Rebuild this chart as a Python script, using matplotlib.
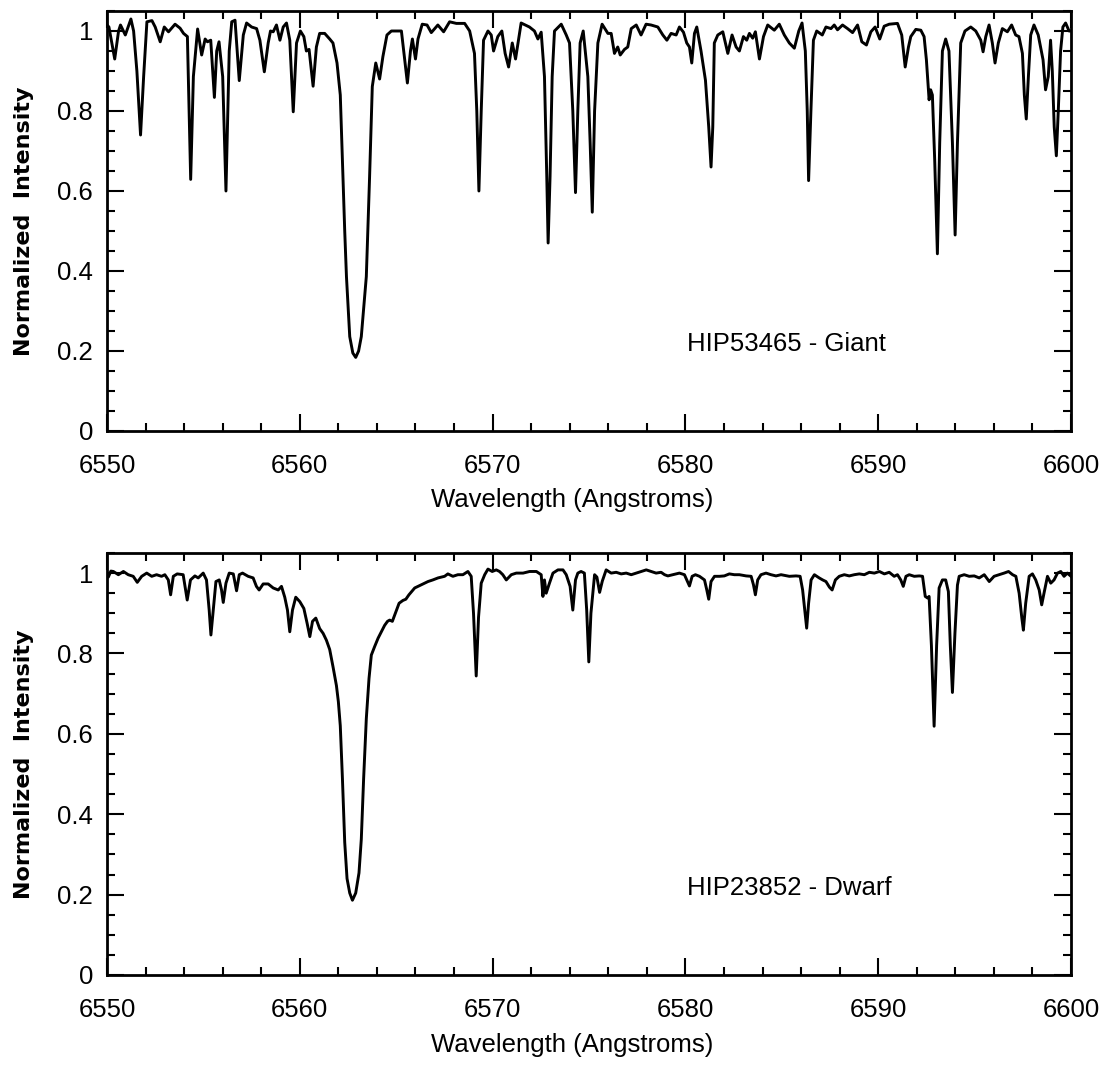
import matplotlib
matplotlib.use("Agg")
import matplotlib.pyplot as plt
from matplotlib.ticker import MultipleLocator, FuncFormatter

# ---------------- data ----------------
giant_wave = [
    6550.00, 6550.10, 6550.40, 6550.60, 6550.70, 6550.95, 6551.24, 6551.38, 6551.55, 6551.74,
    6551.90, 6552.07, 6552.33, 6552.50, 6552.76, 6552.97, 6553.19, 6553.53, 6553.79, 6553.97,
    6554.17, 6554.34, 6554.48, 6554.70, 6554.91, 6555.09, 6555.21, 6555.38, 6555.57, 6555.69,
    6555.81, 6556.00, 6556.17, 6556.34, 6556.47, 6556.64, 6556.86, 6557.07, 6557.24, 6557.50,
    6557.76, 6557.93, 6558.16, 6558.36, 6558.48, 6558.62, 6558.79, 6558.97, 6559.14, 6559.31,
    6559.48, 6559.66, 6559.83, 6560.03, 6560.21, 6560.34, 6560.48, 6560.69, 6560.86, 6561.03,
    6561.29, 6561.55, 6561.72, 6561.93, 6562.10, 6562.24, 6562.33, 6562.42, 6562.59, 6562.75,
    6562.90, 6563.05, 6563.19, 6563.45, 6563.62, 6563.76, 6563.94, 6564.14, 6564.31, 6564.52,
    6564.75, 6565.27, 6565.44, 6565.58, 6565.74, 6565.84, 6566.00, 6566.13, 6566.35, 6566.60,
    6566.82, 6567.16, 6567.46, 6567.77, 6568.12, 6568.55, 6568.81, 6569.06, 6569.18, 6569.29,
    6569.41, 6569.53, 6569.76, 6569.93, 6570.05, 6570.27, 6570.48, 6570.65, 6570.83, 6571.02,
    6571.19, 6571.48, 6571.91, 6572.17, 6572.35, 6572.52, 6572.69, 6572.81, 6572.88, 6572.98,
    6573.09, 6573.21, 6573.56, 6573.82, 6573.99, 6574.16, 6574.30, 6574.42, 6574.54, 6574.70,
    6574.94, 6575.06, 6575.17, 6575.29, 6575.46, 6575.68, 6575.98, 6576.15, 6576.32, 6576.49,
    6576.62, 6576.84, 6577.01, 6577.19, 6577.45, 6577.70, 6577.96, 6578.22, 6578.57, 6578.83,
    6579.04, 6579.26, 6579.52, 6579.69, 6579.90, 6580.07, 6580.21, 6580.33, 6580.47, 6580.59,
    6580.81, 6581.04, 6581.21, 6581.33, 6581.42, 6581.50, 6581.68, 6581.94, 6582.20, 6582.42,
    6582.63, 6582.80, 6583.01, 6583.18, 6583.32, 6583.49, 6583.63, 6583.84, 6584.05, 6584.27,
    6584.61, 6584.87, 6585.13, 6585.39, 6585.65, 6585.88, 6586.05, 6586.22, 6586.32, 6586.39,
    6586.51, 6586.64, 6586.81, 6587.10, 6587.29, 6587.55, 6587.72, 6587.89, 6588.15, 6588.41,
    6588.67, 6588.93, 6589.15, 6589.39, 6589.62, 6589.84, 6590.08, 6590.31, 6590.57, 6591.00,
    6591.22, 6591.40, 6591.57, 6591.69, 6591.95, 6592.21, 6592.38, 6592.50, 6592.64, 6592.72,
    6592.81, 6592.93, 6593.07, 6593.19, 6593.33, 6593.50, 6593.67, 6593.85, 6593.99, 6594.11,
    6594.28, 6594.50, 6594.80, 6595.06, 6595.32, 6595.44, 6595.58, 6595.75, 6595.92, 6596.06,
    6596.23, 6596.44, 6596.70, 6596.92, 6597.13, 6597.30, 6597.48, 6597.58, 6597.68, 6597.79,
    6597.91, 6598.08, 6598.30, 6598.55, 6598.68, 6598.82, 6598.94, 6599.03, 6599.13, 6599.24,
    6599.34, 6599.46, 6599.58, 6599.72, 6599.90, 6600.00,
]
giant_flux = [
    1.015, 1.010, 0.930, 1.000, 1.015, 0.990, 1.030, 1.000, 0.900, 0.740,
    0.886, 1.023, 1.026, 1.010, 0.973, 1.010, 0.998, 1.017, 1.007, 0.994,
    0.986, 0.629, 0.886, 1.005, 0.940, 0.980, 0.973, 0.977, 0.834, 0.950,
    0.973, 0.886, 0.600, 0.950, 1.023, 1.027, 0.876, 0.990, 1.020, 1.010,
    1.006, 0.977, 0.898, 0.970, 1.000, 0.998, 1.015, 0.977, 1.010, 1.020,
    0.977, 0.798, 0.970, 1.000, 0.986, 0.950, 0.954, 0.862, 0.960, 0.994,
    0.994, 0.980, 0.970, 0.920, 0.840, 0.636, 0.500, 0.386, 0.236, 0.195,
    0.184, 0.200, 0.236, 0.386, 0.636, 0.861, 0.920, 0.880, 0.936, 0.990,
    1.000, 1.000, 0.930, 0.870, 0.950, 0.980, 0.930, 0.980, 1.017, 1.015,
    0.996, 1.015, 0.998, 1.023, 1.019, 1.019, 1.000, 0.944, 0.800, 0.600,
    0.800, 0.977, 1.000, 0.990, 0.950, 0.986, 1.000, 0.944, 0.910, 0.970,
    0.930, 1.020, 1.010, 1.000, 0.980, 0.997, 0.886, 0.636, 0.470, 0.636,
    0.886, 1.000, 1.017, 0.990, 0.970, 0.800, 0.596, 0.800, 0.970, 1.000,
    0.886, 0.720, 0.547, 0.800, 0.970, 1.017, 0.994, 0.994, 0.944, 0.960,
    0.940, 0.954, 0.960, 1.006, 1.015, 0.990, 1.017, 1.015, 1.010, 0.990,
    0.977, 0.994, 0.990, 1.010, 0.997, 0.970, 0.960, 0.920, 0.994, 1.010,
    0.950, 0.877, 0.760, 0.660, 0.760, 0.970, 0.990, 0.998, 0.944, 0.990,
    0.960, 0.950, 0.986, 0.977, 0.994, 0.982, 0.998, 0.930, 0.986, 1.015,
    1.002, 1.017, 0.990, 0.970, 0.957, 1.000, 1.020, 0.950, 0.800, 0.626,
    0.800, 0.977, 1.000, 0.990, 1.010, 1.006, 1.015, 1.003, 1.015, 1.006,
    0.996, 1.015, 0.973, 0.965, 0.998, 1.010, 0.980, 1.012, 1.017, 1.019,
    0.990, 0.910, 0.960, 0.986, 1.004, 1.002, 0.986, 0.928, 0.828, 0.853,
    0.840, 0.678, 0.443, 0.720, 0.950, 0.980, 0.950, 0.720, 0.490, 0.720,
    0.970, 1.000, 1.010, 1.000, 0.977, 0.948, 0.986, 1.015, 0.970, 0.920,
    0.970, 1.006, 0.998, 1.015, 0.990, 0.986, 0.944, 0.840, 0.780, 0.886,
    0.990, 1.015, 0.990, 0.928, 0.853, 0.886, 0.977, 0.900, 0.760, 0.688,
    0.800, 0.950, 1.010, 1.020, 1.000, 1.000,
]

dwarf_wave = [
    6550.00, 6550.07, 6550.20, 6550.33, 6550.59, 6550.85, 6551.10, 6551.36, 6551.57, 6551.80,
    6552.06, 6552.32, 6552.57, 6552.83, 6553.00, 6553.18, 6553.30, 6553.44, 6553.64, 6553.95,
    6554.16, 6554.33, 6554.56, 6554.73, 6554.99, 6555.16, 6555.30, 6555.39, 6555.51, 6555.65,
    6555.82, 6555.94, 6556.03, 6556.17, 6556.34, 6556.55, 6556.72, 6556.86, 6557.03, 6557.32,
    6557.58, 6557.75, 6557.89, 6558.10, 6558.36, 6558.62, 6558.88, 6559.05, 6559.22, 6559.36,
    6559.48, 6559.62, 6559.79, 6560.00, 6560.21, 6560.38, 6560.52, 6560.66, 6560.83, 6561.03,
    6561.21, 6561.38, 6561.55, 6561.73, 6561.90, 6562.00, 6562.10, 6562.21, 6562.33, 6562.45,
    6562.59, 6562.73, 6562.90, 6563.07, 6563.19, 6563.31, 6563.45, 6563.59, 6563.71, 6563.88,
    6564.06, 6564.23, 6564.40, 6564.55, 6564.66, 6564.80, 6564.97, 6565.15, 6565.35, 6565.50,
    6565.66, 6565.96, 6566.30, 6566.65, 6566.90, 6567.17, 6567.51, 6567.68, 6567.94, 6568.20,
    6568.46, 6568.72, 6568.89, 6569.01, 6569.15, 6569.27, 6569.41, 6569.59, 6569.76, 6569.98,
    6570.19, 6570.36, 6570.53, 6570.71, 6570.97, 6571.23, 6571.58, 6571.92, 6572.27, 6572.52,
    6572.61, 6572.69, 6572.78, 6572.95, 6573.13, 6573.39, 6573.65, 6573.82, 6574.02, 6574.16,
    6574.30, 6574.42, 6574.59, 6574.76, 6574.88, 6574.99, 6575.10, 6575.29, 6575.41, 6575.55,
    6575.69, 6575.89, 6576.15, 6576.41, 6576.67, 6576.93, 6577.19, 6577.45, 6577.71, 6577.97,
    6578.23, 6578.48, 6578.74, 6578.92, 6579.09, 6579.35, 6579.69, 6579.95, 6580.07, 6580.21,
    6580.35, 6580.52, 6580.73, 6580.99, 6581.11, 6581.21, 6581.33, 6581.51, 6581.77, 6582.02,
    6582.28, 6582.54, 6582.80, 6583.15, 6583.41, 6583.53, 6583.63, 6583.75, 6583.92, 6584.18,
    6584.44, 6584.70, 6584.96, 6585.39, 6585.74, 6585.95, 6586.08, 6586.19, 6586.29, 6586.39,
    6586.52, 6586.69, 6586.94, 6587.12, 6587.29, 6587.47, 6587.61, 6587.78, 6587.98, 6588.24,
    6588.50, 6588.76, 6589.02, 6589.28, 6589.54, 6589.80, 6590.06, 6590.32, 6590.57, 6590.83,
    6591.00, 6591.17, 6591.30, 6591.44, 6591.61, 6591.87, 6592.13, 6592.30, 6592.44, 6592.56,
    6592.64, 6592.76, 6592.90, 6593.03, 6593.16, 6593.33, 6593.50, 6593.64, 6593.74, 6593.85,
    6593.98, 6594.11, 6594.20, 6594.46, 6594.72, 6594.98, 6595.24, 6595.50, 6595.76, 6596.01,
    6596.27, 6596.53, 6596.76, 6596.97, 6597.14, 6597.31, 6597.45, 6597.53, 6597.65, 6597.83,
    6598.00, 6598.17, 6598.35, 6598.48, 6598.60, 6598.78, 6598.95, 6599.12, 6599.30, 6599.47,
    6599.64, 6599.81, 6600.00,
]
dwarf_flux = [
    0.995, 0.990, 1.005, 1.004, 0.996, 1.004, 0.996, 0.992, 0.977, 0.992,
    1.000, 0.992, 0.996, 0.992, 0.996, 0.983, 0.946, 0.992, 0.998, 0.996,
    0.933, 0.983, 0.993, 0.988, 1.000, 0.983, 0.908, 0.846, 0.908, 0.979,
    0.983, 0.958, 0.927, 0.975, 1.000, 0.998, 0.956, 0.996, 1.000, 0.992,
    0.988, 0.967, 0.958, 0.973, 0.973, 0.963, 0.958, 0.967, 0.940, 0.908,
    0.854, 0.908, 0.940, 0.929, 0.912, 0.875, 0.842, 0.880, 0.888, 0.862,
    0.850, 0.833, 0.810, 0.765, 0.720, 0.680, 0.620, 0.490, 0.330, 0.240,
    0.204, 0.186, 0.204, 0.254, 0.338, 0.488, 0.638, 0.738, 0.796, 0.817,
    0.838, 0.854, 0.870, 0.880, 0.883, 0.880, 0.902, 0.925, 0.932, 0.935,
    0.946, 0.963, 0.971, 0.979, 0.983, 0.988, 0.992, 0.998, 0.992, 0.996,
    0.996, 1.004, 0.992, 0.900, 0.744, 0.890, 0.975, 0.996, 1.010, 1.004,
    1.008, 1.004, 0.996, 0.983, 0.996, 1.000, 1.000, 1.004, 1.004, 0.996,
    0.942, 0.983, 0.950, 0.975, 1.000, 1.008, 1.008, 0.996, 0.967, 0.908,
    0.983, 1.000, 1.004, 1.000, 0.908, 0.779, 0.900, 0.996, 0.990, 0.952,
    0.980, 1.008, 1.000, 1.002, 0.998, 1.000, 0.996, 1.000, 1.004, 1.008,
    1.004, 1.000, 1.002, 0.996, 0.993, 0.996, 1.000, 0.996, 0.983, 0.968,
    0.992, 0.996, 0.992, 0.983, 0.958, 0.935, 0.979, 0.992, 0.992, 0.993,
    0.998, 0.996, 0.996, 0.993, 0.992, 0.971, 0.946, 0.983, 0.996, 1.000,
    0.996, 0.993, 0.996, 0.992, 0.993, 0.992, 0.958, 0.908, 0.863, 0.925,
    0.983, 0.996, 0.988, 0.983, 0.979, 0.965, 0.958, 0.983, 0.992, 0.996,
    0.993, 0.996, 0.998, 0.996, 1.002, 1.000, 1.004, 0.998, 1.002, 0.992,
    0.996, 0.983, 0.967, 0.992, 0.996, 0.992, 0.993, 0.992, 0.942, 0.938,
    0.942, 0.820, 0.619, 0.820, 0.963, 0.983, 0.983, 0.954, 0.820, 0.703,
    0.850, 0.970, 0.992, 0.996, 0.992, 0.993, 0.988, 0.996, 0.979, 0.992,
    0.996, 1.000, 1.004, 0.996, 0.992, 0.950, 0.888, 0.858, 0.925, 0.992,
    0.998, 0.983, 0.958, 0.921, 0.950, 0.992, 0.975, 0.983, 1.000, 1.004,
    0.992, 1.000, 0.992,
]

panels = [
    (giant_wave, giant_flux, "HIP53465 - Giant"),
    (dwarf_wave, dwarf_flux, "HIP23852 - Dwarf"),
]
x_range = (6550, 6600)
y_range = (0, 1.05)

# ---------------- figure ----------------
W, H = 1110, 1066
fig = plt.figure(figsize=(W / 100, H / 100), dpi=100)
fig.patch.set_facecolor("white")

# (top, bottom) pixel rows of each frame, and x-label rows
frames = [(11, 431), (553, 975)]
xlabel_rows = [500, 1045]
left_px, right_px = 107, 1071

tick_font = "Liberation Sans"
fsize = 18.5

for (wave, flux, label), (top_px, bot_px), xl_row in zip(panels, frames, xlabel_rows):
    ax = fig.add_axes([left_px / W, 1 - bot_px / H,
                       (right_px - left_px) / W, (bot_px - top_px) / H])
    ax.plot(wave, flux, color="black", lw=2.1, solid_joinstyle="round")
    ax.set_xlim(*x_range)
    ax.set_ylim(*y_range)

    ax.xaxis.set_major_locator(MultipleLocator(10))
    ax.xaxis.set_minor_locator(MultipleLocator(2))
    ax.yaxis.set_major_locator(MultipleLocator(0.2))
    ax.yaxis.set_minor_locator(MultipleLocator(0.05))
    ax.xaxis.set_major_formatter(FuncFormatter(lambda v, p: "%d" % round(v)))
    ax.yaxis.set_major_formatter(FuncFormatter(lambda v, p: "%g" % round(v, 2)))

    ax.tick_params(which="both", direction="in", top=True, right=True,
                   width=1.5, colors="black")
    ax.tick_params(which="major", length=12)
    ax.tick_params(which="minor", length=5.5)
    ax.tick_params(axis="x", which="major", pad=16.5)
    ax.tick_params(axis="y", which="major", pad=10)
    for s in ax.spines.values():
        s.set_linewidth(2.0)
    for t in ax.get_xticklabels() + ax.get_yticklabels():
        t.set_fontfamily(tick_font)
        t.set_fontsize(fsize)

    ax.text(6580.1, 0.2, label, fontsize=fsize, family=tick_font,
            ha="left", va="baseline")

    fig.text(572 / W, 1 - xl_row / H, "Wavelength (Angstroms)",
             fontsize=fsize, family=tick_font, ha="center", va="center")
    fig.text(24 / W, 1 - ((top_px + bot_px) / 2) / H, "Normalized  Intensity",
             fontsize=16, family="DejaVu Sans", fontweight="bold",
             rotation=90, ha="center", va="center")

fig.savefig("out.png", dpi=100, facecolor="white")
